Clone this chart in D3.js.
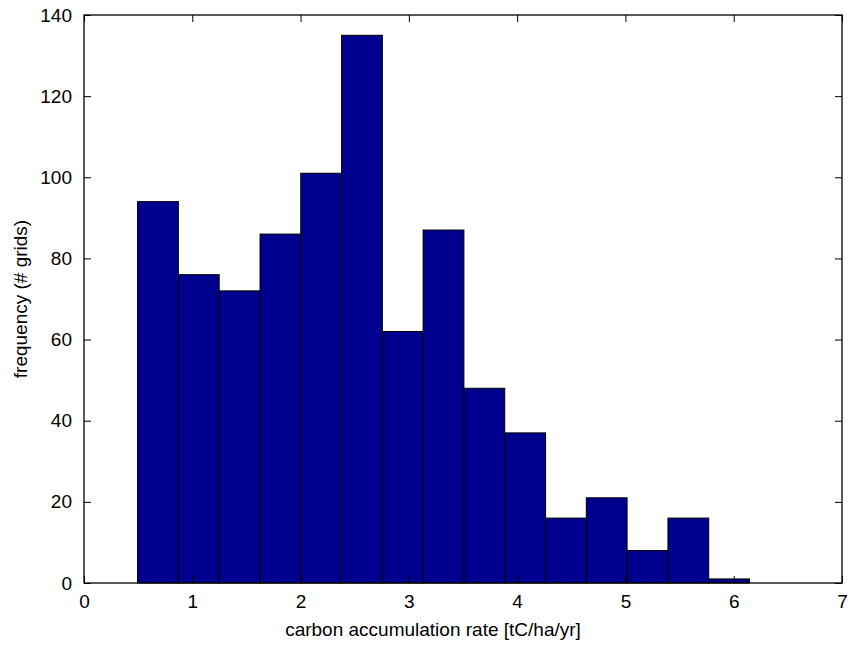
<!DOCTYPE html>
<html>
<head>
<meta charset="utf-8">
<script src="https://cdn.jsdelivr.net/npm/d3@7"></script>
<style>
  html, body { margin: 0; padding: 0; background: #fff; }
  svg { display: block; }
  text { font-family: "Liberation Sans", Arial, Helvetica, sans-serif; fill: #000; }
</style>
</head>
<body>
<svg id="chart" width="848" height="646"></svg>
<script>
// ---- data ----
const binCenters = [0.683, 1.060, 1.437, 1.814, 2.190, 2.567, 2.944, 3.320, 3.697, 4.074, 4.451, 4.827, 5.204, 5.581, 5.957];
const binWidth = 0.3767;
const counts = [94, 76, 72, 86, 101, 135, 62, 87, 48, 37, 16, 21, 8, 16, 1];
const xTicks = [0, 1, 2, 3, 4, 5, 6, 7];
const yTicks = [0, 20, 40, 60, 80, 100, 120, 140];
const xLabel = "carbon accumulation rate [tC/ha/yr]";
const yLabel = "frequency (# grids)";

// ---- layout ----
const W = 848, H = 646;
const margin = { left: 84, right: 6, top: 15, bottom: 63 };
const iw = W - margin.left - margin.right;
const ih = H - margin.top - margin.bottom;
const fontSize = 19;
const tickLen = 7;

const svg = d3.select("#chart");
const g = svg.append("g").attr("transform", `translate(${margin.left},${margin.top})`);

const x = d3.scaleLinear().domain([0, 7]).range([0, iw]);
const y = d3.scaleLinear().domain([0, 140]).range([ih, 0]);

// bars
g.selectAll("rect.bar")
  .data(binCenters.map((c, i) => ({ c, v: counts[i] })))
  .join("rect")
  .attr("class", "bar")
  .attr("x", d => x(d.c - binWidth / 2))
  .attr("width", d => x(d.c + binWidth / 2) - x(d.c - binWidth / 2))
  .attr("y", d => y(d.v))
  .attr("height", d => y(0) - y(d.v))
  .attr("fill", "#00008F")
  .attr("stroke", "#000")
  .attr("stroke-width", 1);

// axes (MATLAB style: inward ticks on all four sides)
const axB = d3.axisBottom(x).tickValues(xTicks).tickSize(-tickLen).tickPadding(tickLen + 5).tickFormat(d3.format("d"));
const axT = d3.axisTop(x).tickValues(xTicks).tickSize(-tickLen).tickFormat("");
const axL = d3.axisLeft(y).tickValues(yTicks).tickSize(-tickLen).tickPadding(tickLen + 5).tickFormat(d3.format("d"));
const axR = d3.axisRight(y).tickValues(yTicks).tickSize(-tickLen).tickFormat("");

function style(sel) {
  sel.select(".domain").remove();
  sel.selectAll(".tick line").attr("stroke", "#000").attr("stroke-width", 1);
  sel.selectAll(".tick text").attr("font-size", fontSize).attr("font-family", "Liberation Sans, Arial, sans-serif").attr("fill", "#000");
}
g.append("g").attr("transform", `translate(0,${ih})`).call(axB).call(style);
g.append("g").call(axT).call(style);
g.append("g").call(axL).call(style);
g.append("g").attr("transform", `translate(${iw},0)`).call(axR).call(style);

// box
g.append("rect")
  .attr("x", 0).attr("y", 0).attr("width", iw).attr("height", ih)
  .attr("fill", "none").attr("stroke", "#000").attr("stroke-width", 1.3);

// labels
svg.append("text")
  .attr("x", 433)
  .attr("y", 636)
  .attr("text-anchor", "middle")
  .attr("font-size", fontSize)
  .text(xLabel);

svg.append("text")
  .attr("transform", `translate(27,${margin.top + ih / 2}) rotate(-90)`)
  .attr("text-anchor", "middle")
  .attr("font-size", fontSize)
  .text(yLabel);
</script>
</body>
</html>
